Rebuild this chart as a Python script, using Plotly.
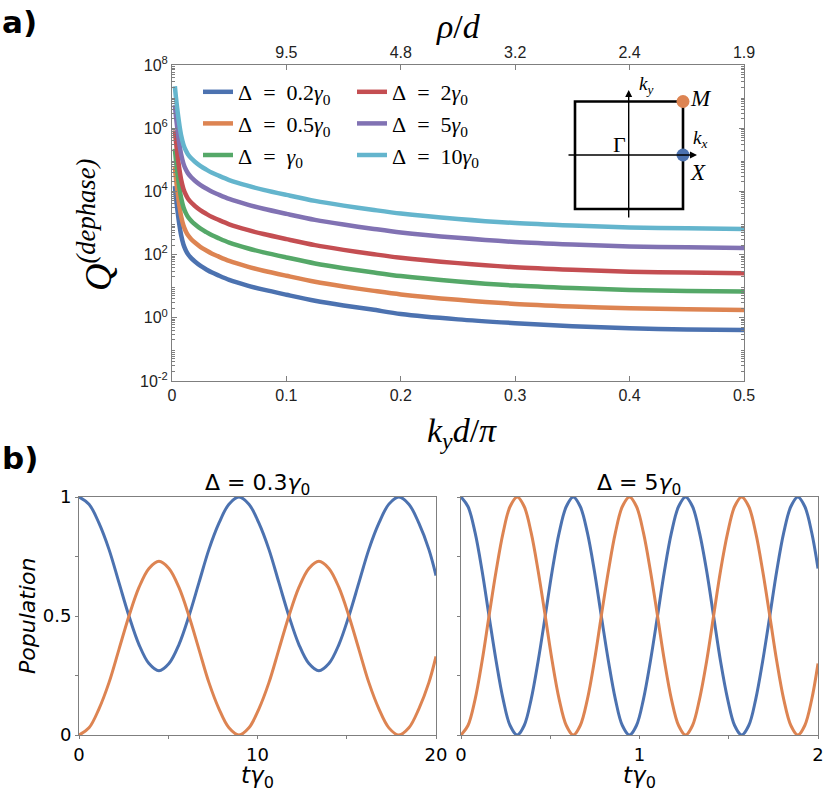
import plotly.graph_objects as go

W, H = 831, 793


def px(x):
    return x / W


def py(y):
    return 1 - y / H


# ---------------- panel a) data (values read in decades, log10 Q) ----------------
ky = [0.0025, 0.0035, 0.0045, 0.0055, 0.0065, 0.008, 0.01, 0.012, 0.014, 0.017, 0.02,
      0.025, 0.03, 0.035, 0.04, 0.05, 0.066, 0.08, 0.1, 0.125, 0.15, 0.175, 0.2,
      0.25, 0.3, 0.35, 0.4, 0.45, 0.5]
logq_d02 = [4.17, 3.80, 3.48, 3.19, 2.93, 2.61, 2.32, 2.14, 2.01, 1.88, 1.78,
            1.64, 1.53, 1.43, 1.35, 1.20, 1.02, 0.89, 0.73, 0.54, 0.39, 0.26, 0.12,
            -0.05, -0.17, -0.27, -0.33, -0.37, -0.39]
logq_d05 = [4.77, 4.40, 4.08, 3.79, 3.53, 3.21, 2.92, 2.74, 2.61, 2.48, 2.38,
            2.24, 2.13, 2.03, 1.95, 1.80, 1.62, 1.49, 1.33, 1.14, 0.99, 0.86, 0.74,
            0.57, 0.44, 0.36, 0.30, 0.27, 0.25]
logq_d1 = [5.35, 4.98, 4.66, 4.37, 4.11, 3.79, 3.50, 3.32, 3.19, 3.06, 2.96,
           2.82, 2.71, 2.61, 2.53, 2.38, 2.20, 2.07, 1.91, 1.72, 1.57, 1.44, 1.32,
           1.15, 1.02, 0.94, 0.88, 0.85, 0.83]
logq_d2 = [5.93, 5.56, 5.24, 4.95, 4.69, 4.37, 4.08, 3.90, 3.77, 3.64, 3.54,
           3.40, 3.29, 3.19, 3.11, 2.96, 2.78, 2.65, 2.49, 2.30, 2.15, 2.02, 1.90,
           1.73, 1.60, 1.52, 1.46, 1.43, 1.41]
logq_d5 = [6.73, 6.36, 6.04, 5.75, 5.49, 5.17, 4.88, 4.70, 4.57, 4.44, 4.34,
           4.20, 4.09, 3.99, 3.91, 3.76, 3.58, 3.45, 3.29, 3.10, 2.95, 2.82, 2.70,
           2.53, 2.40, 2.32, 2.26, 2.23, 2.21]
logq_d10 = [7.33, 6.96, 6.64, 6.35, 6.09, 5.77, 5.48, 5.30, 5.17, 5.04, 4.94,
            4.80, 4.69, 4.59, 4.51, 4.36, 4.18, 4.05, 3.89, 3.70, 3.55, 3.42, 3.30,
            3.13, 3.00, 2.92, 2.86, 2.83, 2.81]

series_names = ["Δ\u2002=\u20020.2<i>γ</i><sub>0</sub>", "Δ\u2002=\u20020.5<i>γ</i><sub>0</sub>",
                "Δ\u2002=\u2002<i>γ</i><sub>0</sub>", "Δ\u2002=\u20022<i>γ</i><sub>0</sub>",
                "Δ\u2002=\u20025<i>γ</i><sub>0</sub>", "Δ\u2002=\u200210<i>γ</i><sub>0</sub>"]
series_logs = [logq_d02, logq_d05, logq_d1, logq_d2, logq_d5, logq_d10]
colors = ["#4C72B0", "#DD8452", "#55A868", "#C44E52", "#8172B3", "#64B5CD"]
legend_ids = ["legend", "legend", "legend", "legend2", "legend2", "legend2"]

x_ticks = [0, 0.1, 0.2, 0.3, 0.4, 0.5]
x_ticktext = ["0", "0.1", "0.2", "0.3", "0.4", "0.5"]
top_ticks = [0.1, 0.2, 0.3, 0.4, 0.5]
top_ticktext = ["9.5", "4.8", "3.2", "2.4", "1.9"]
y_exps = [-2, 0, 2, 4, 6, 8]

# ---------------- panel b) data ----------------
t_left = [0, 0.56, 1.12, 1.68, 2.24, 2.80, 3.36, 3.92, 4.48, 5.04, 5.60, 6.16, 6.72,
          7.28, 7.84, 8.40, 8.96, 9.52, 10.08, 10.64, 11.20, 11.76, 12.32, 12.88,
          13.44, 14.00, 14.56, 15.12, 15.68, 16.24, 16.80, 17.36, 17.92, 18.48,
          19.04, 19.60, 20.0]
p1_left = [1.0, 0.97, 0.89, 0.78, 0.64, 0.50, 0.38, 0.30, 0.27, 0.30, 0.38, 0.50, 0.64,
           0.78, 0.89, 0.97, 1.0, 0.97, 0.89, 0.78, 0.64, 0.50, 0.38, 0.30,
           0.27, 0.30, 0.38, 0.50, 0.64, 0.78, 0.89, 0.97, 1.0, 0.97,
           0.89, 0.78, 0.67]
p2_left = [0.0, 0.03, 0.11, 0.22, 0.36, 0.50, 0.62, 0.70, 0.73, 0.70, 0.62, 0.50, 0.36,
           0.22, 0.11, 0.03, 0.0, 0.03, 0.11, 0.22, 0.36, 0.50, 0.62, 0.70,
           0.73, 0.70, 0.62, 0.50, 0.36, 0.22, 0.11, 0.03, 0.0, 0.03,
           0.11, 0.22, 0.33]

t_right = [0.0, 0.039, 0.079, 0.118, 0.157, 0.197, 0.236, 0.275, 0.315, 0.354, 0.393,
           0.432, 0.472, 0.511, 0.550, 0.590, 0.629, 0.668, 0.708, 0.747, 0.786,
           0.826, 0.865, 0.904, 0.944, 0.983, 1.022, 1.061, 1.101, 1.140, 1.179,
           1.219, 1.258, 1.297, 1.336, 1.376, 1.415, 1.454, 1.494, 1.533, 1.572,
           1.612, 1.651, 1.690, 1.730, 1.769, 1.808, 1.848, 1.887, 1.926, 1.965, 2.0]
p1_right = [1.0, 0.96, 0.85, 0.69, 0.50, 0.31, 0.15, 0.04, 0.0, 0.04, 0.15,
            0.31, 0.50, 0.69, 0.85, 0.96, 1.0, 0.96, 0.85, 0.69, 0.50,
            0.31, 0.15, 0.04, 0.0, 0.04, 0.15, 0.31, 0.50, 0.69, 0.85,
            0.96, 1.0, 0.96, 0.85, 0.69, 0.50, 0.31, 0.15, 0.04, 0.0,
            0.04, 0.15, 0.31, 0.50, 0.69, 0.85, 0.96, 1.0, 0.96, 0.85, 0.70]
p2_right = [0.0, 0.04, 0.15, 0.31, 0.50, 0.69, 0.85, 0.96, 1.0, 0.96, 0.85,
            0.69, 0.50, 0.31, 0.15, 0.04, 0.0, 0.04, 0.15, 0.31, 0.50,
            0.69, 0.85, 0.96, 1.0, 0.96, 0.85, 0.69, 0.50, 0.31, 0.15,
            0.04, 0.0, 0.04, 0.15, 0.31, 0.50, 0.69, 0.85, 0.96, 1.0,
            0.96, 0.85, 0.69, 0.50, 0.31, 0.15, 0.04, 0.0, 0.04, 0.15, 0.30]

pop_colors = ["#4C72B0", "#DD8452"]

GRAY = "#7f7f7f"

fig = go.Figure()

for name, logs, col, lg in zip(series_names, series_logs, colors, legend_ids):
    fig.add_trace(go.Scatter(x=ky, y=[10.0 ** v for v in logs], mode="lines", name=name,
                             legend=lg,
                             line=dict(color=col, width=4.5, shape="spline", smoothing=0.8),
                             xaxis="x", yaxis="y"))

# helper (invisible) so that the top rho/d axis is drawn
fig.add_trace(go.Scatter(x=ky, y=[10.0 ** v for v in logq_d10], mode="lines", opacity=0,
                         showlegend=False, hoverinfo="skip", line=dict(width=0),
                         xaxis="x4", yaxis="y"))

for yv, col in zip([p1_left, p2_left], pop_colors):
    fig.add_trace(go.Scatter(x=t_left, y=yv, mode="lines", showlegend=False,
                             line=dict(color=col, width=3, shape="spline", smoothing=1.0),
                             xaxis="x2", yaxis="y2"))
for yv, col in zip([p1_right, p2_right], pop_colors):
    fig.add_trace(go.Scatter(x=t_right, y=yv, mode="lines", showlegend=False,
                             line=dict(color=col, width=3, shape="spline", smoothing=1.0),
                             xaxis="x3", yaxis="y3"))

minor_vals = [m * 10.0 ** k for k in range(-2, 8) for m in range(2, 10)]
tickfont_a = dict(family="Liberation Sans", size=16, color="#222222")
tickfont_b = dict(family="DejaVu Sans", size=18, color="black")

common_b = dict(showgrid=False, zeroline=False, showline=True, linecolor=GRAY, linewidth=1,
                mirror=True, ticks="outside", ticklen=3, tickcolor=GRAY, tickfont=tickfont_b)

fig.update_layout(
    width=W, height=H, margin=dict(l=0, r=0, t=0, b=0, autoexpand=False),
    paper_bgcolor="white", plot_bgcolor="white",
    xaxis=dict(domain=[px(172), px(744)], anchor="y", range=[0, 0.5], tickvals=x_ticks,
               ticktext=x_ticktext, ticks="inside", ticklen=5, tickcolor=GRAY,
               showline=True, linecolor=GRAY, linewidth=1, showgrid=False, zeroline=False,
               tickfont=tickfont_a),
    xaxis4=dict(overlaying="x", side="top", anchor="y", range=[0, 0.5], tickvals=top_ticks,
                ticktext=top_ticktext, ticks="inside", ticklen=5, tickcolor=GRAY,
                showline=True, linecolor=GRAY, linewidth=1, showgrid=False, zeroline=False,
                tickfont=tickfont_a),
    yaxis=dict(domain=[py(381), py(65)], anchor="x", type="log", range=[-2, 8],
               tickvals=[10.0 ** e for e in y_exps],
               ticktext=["10<sup>%d</sup>" % e for e in y_exps],
               ticks="inside", ticklen=5, tickcolor=GRAY, mirror="ticks",
               minor=dict(tickvals=minor_vals, ticks="inside", ticklen=3, tickcolor=GRAY),
               showline=True, linecolor=GRAY, linewidth=1, showgrid=False, zeroline=False,
               tickfont=tickfont_a),
    xaxis2=dict(domain=[px(79), px(436)], anchor="y2", range=[0, 20],
                tickvals=[0, 5, 10, 15, 20], ticktext=["0", "", "10", "", "20"], **common_b),
    yaxis2=dict(domain=[py(735), py(497)], anchor="x2", range=[0, 1],
                tickvals=[0, 0.25, 0.5, 0.75, 1], ticktext=["0", "", "0.5", "", "1"], **common_b),
    xaxis3=dict(domain=[px(461), px(818)], anchor="y3", range=[0, 2],
                tickvals=[0, 0.5, 1, 1.5, 2], ticktext=["0", "", "1", "", "2"], **common_b),
    yaxis3=dict(domain=[py(735), py(497)], anchor="x3", range=[0, 1],
                tickvals=[0, 0.25, 0.5, 0.75, 1], ticktext=["", "", "", "", ""], **common_b),
    legend=dict(x=px(198), y=py(71), xanchor="left", yanchor="top", bgcolor="rgba(0,0,0,0)",
                font=dict(family="Liberation Serif", size=22, color="black"),
                tracegroupgap=0),
    legend2=dict(x=px(352), y=py(71), xanchor="left", yanchor="top", bgcolor="rgba(0,0,0,0)",
                 font=dict(family="Liberation Serif", size=22, color="black"),
                 tracegroupgap=0),
)

ann = []


def add_text(x, y, text, size, family, angle=0, xanchor="center", color="black"):
    ann.append(dict(x=px(x), y=py(y), xref="paper", yref="paper", text=text, showarrow=False,
                    xanchor=xanchor, yanchor="middle", textangle=angle,
                    font=dict(size=size, family=family, color=color)))


add_text(0, 22, "<b>a)</b>", 31, "DejaVu Sans", xanchor="left")
add_text(0, 458, "<b>b)</b>", 31, "DejaVu Sans", xanchor="left")
add_text(458, 27, "<i>ρ</i>/<i>d</i>", 34, "Liberation Serif")
add_text(462, 433, "<i>k<sub>y</sub>d</i>/<i>π</i>", 34, "Liberation Serif")
add_text(95, 225, "<i>Q<sup>(dephase)</sup></i>", 38, "Liberation Serif", angle=-90)

add_text(257, 484, "Δ = 0.3<i>γ</i><sub>0</sub>", 22, "DejaVu Sans")
add_text(639, 484, "Δ = 5<i>γ</i><sub>0</sub>", 22, "DejaVu Sans")
add_text(27, 616, "<i>Population</i>", 22, "DejaVu Sans", angle=-90)
add_text(257, 777, "<i>tγ</i><sub>0</sub>", 23, "DejaVu Sans")
add_text(639, 777, "<i>tγ</i><sub>0</sub>", 23, "DejaVu Sans")

# Brillouin-zone inset
add_text(619, 144, "Γ", 22, "Liberation Serif")
add_text(701, 98, "<i>M</i>", 23, "Liberation Serif")
add_text(698, 172, "<i>X</i>", 23, "Liberation Serif")
add_text(646, 85, "<i>k<sub>y</sub></i>", 19, "Liberation Serif")
add_text(700, 139, "<i>k<sub>x</sub></i>", 19, "Liberation Serif")

ann.append(dict(x=px(628.7), y=py(90), xref="paper", yref="paper", ax=0, ay=129,
                showarrow=True, arrowhead=2, arrowsize=1, arrowwidth=1.4, arrowcolor="black",
                text="", standoff=0))
ann.append(dict(x=px(697), y=py(155), xref="paper", yref="paper", ax=-130, ay=0,
                showarrow=True, arrowhead=2, arrowsize=1, arrowwidth=1.4, arrowcolor="black",
                text="", standoff=0))

fig.update_layout(annotations=ann)

shapes = [
    dict(type="rect", xref="paper", yref="paper", x0=px(575), x1=px(683), y0=py(209),
         y1=py(101.5), line=dict(color="black", width=2.6), layer="above"),
    dict(type="circle", xref="paper", yref="paper", x0=px(676.5), x1=px(689.5), y0=py(108),
         y1=py(95), fillcolor="#DD8452", line=dict(width=0), layer="above"),
    dict(type="circle", xref="paper", yref="paper", x0=px(676.5), x1=px(689.5), y0=py(161.5),
         y1=py(148.5), fillcolor="#4C72B0", line=dict(width=0), layer="above"),
]
fig.update_layout(shapes=shapes)

fig.write_html("out.html", config={"displayModeBar": False},
               post_script="document.body.style.margin='0px';"
                           "document.body.style.overflow='hidden';")
